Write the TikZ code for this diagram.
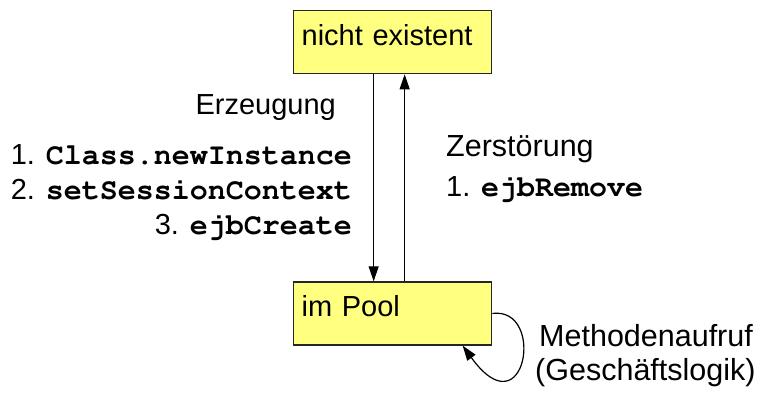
\documentclass[tikz,border=0pt]{standalone}
\usepackage[T1]{fontenc}
\usepackage{fontspec}
\setmainfont{Liberation Sans}
\usetikzlibrary{arrows.meta, positioning}

\definecolor{poolyellow}{HTML}{FFFF80}
\newcommand{\meth}[1]{{\fontencoding{T1}\fontfamily{pcr}\fontseries{b}\fontsize{30}{34}\selectfont #1}}

\begin{document}
\begin{tikzpicture}[
    x=1pt, y=-1pt,
    font=\fontsize{29}{34}\selectfont,
    state/.style={draw=black!85, fill=poolyellow, line width=1.3pt, rectangle, minimum width=198pt, minimum height=63pt, text width=182pt, inner xsep=8pt, inner ysep=4pt, text height=31pt, text depth=24pt, align=left},
    lbl/.style={inner sep=0pt},
    biglbl/.style={lbl, font=\fontsize{30.5}{34}\selectfont},
    arrow/.style={-{Triangle[length=15pt,width=10pt]}, line width=1.2pt}
]
    \useasboundingbox (0,0) rectangle (766,392);

    % States
    \node[state, anchor=north west] (nichtex) at (293,10) {nicht existent};
    \node[state, below=207pt of nichtex] (pool) {im Pool};

    % Creation
    \node[lbl, anchor=base east] (erz) at (336,114) {Erzeugung};
    \node[lbl, anchor=base east] (create1) at (352,164) {1. \meth{Class.newInstance}};
    \node[lbl, anchor=base east] (create2) at (352,199) {2. \meth{setSessionContext}};
    \node[lbl, anchor=base east] (create3) at (352,234) {3. \meth{ejbCreate}};

    % Destruction
    \node[biglbl, anchor=base west] (zerst) at (446,156) {Zerstörung};
    \node[lbl, anchor=base west] (remove1) at (446,196) {1. \meth{ejbRemove}};

    % Method call
    \node[biglbl, anchor=base west] (call) at (539,346) {Methodenaufruf};
    \node[biglbl, anchor=base west] (logic) at (535,380) {(Geschäftslogik)};

    % Connections
    \draw[arrow] ([xshift=-19pt]nichtex.south) -- ([xshift=-19pt]pool.north);
    \draw[arrow] ([xshift=12pt]pool.north) -- ([xshift=12pt]nichtex.south);
    \draw[arrow] (pool.east) .. controls +(54,-7) and +(63,87) .. ([xshift=70pt]pool.south);
\end{tikzpicture}
\end{document}
